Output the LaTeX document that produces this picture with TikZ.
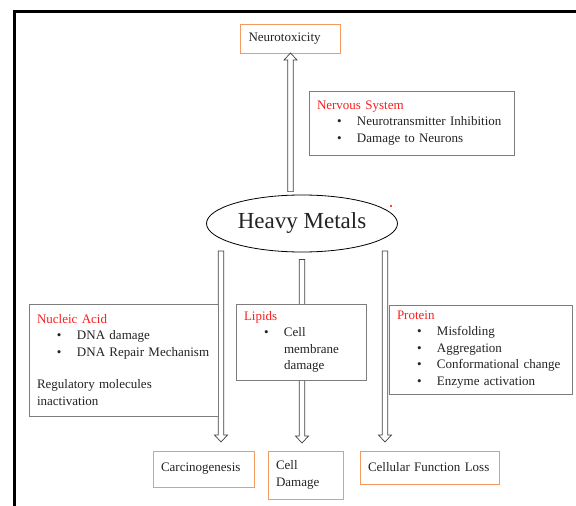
\documentclass[tikz,border=0pt]{standalone}
\usepackage{fontspec}
\setmainfont{Liberation Serif}
\usetikzlibrary{shapes.geometric,arrows.meta,positioning,calc}

\definecolor{boxorange}{RGB}{243,155,95}
\definecolor{boxgray}{RGB}{125,125,125}
\definecolor{headred}{RGB}{250,30,30}
\definecolor{txt}{RGB}{35,35,35}
\newcommand{\bull}[1]{\hspace*{20pt}\makebox[20pt][l]{\textbullet}#1}

\begin{document}
\begin{tikzpicture}[x=1pt, y=-1pt,
  font=\fontsize{13}{16.5}\selectfont, text=txt,
  outcome/.style={draw=boxorange, line width=0.9pt, fill=white, anchor=north west,
    inner xsep=8pt, inner ysep=0pt, outer sep=0pt, align=left},
  group/.style={draw=boxgray, line width=0.8pt, fill=white, anchor=north west,
    inner xsep=8pt, inner ysep=0pt, outer sep=0pt, align=left},
  % hollow block arrow from start to target
  hollow/.style={draw=black!75, line width=0.7pt, fill=white, line join=miter,
    to path={($(\tikztostart)!2.8pt!90:(\tikztotarget)$)
      -- ($(\tikztotarget)!7pt!(\tikztostart)!2.8pt!-90:(\tikztostart)$)
      -- ($(\tikztotarget)!7pt!(\tikztostart)!6.5pt!-90:(\tikztostart)$)
      -- (\tikztotarget)
      -- ($(\tikztotarget)!7pt!(\tikztostart)!6.5pt!90:(\tikztostart)$)
      -- ($(\tikztotarget)!7pt!(\tikztostart)!2.8pt!90:(\tikztostart)$)
      -- ($(\tikztostart)!2.8pt!-90:(\tikztotarget)$) -- cycle}}]
\useasboundingbox (0,0) rectangle (576,506);

% frame
\draw[line width=2.5pt] (14.3,506) -- (14.3,11.7) -- (576,11.7);

% centre
\node[draw, ellipse, line width=0.8pt, minimum width=190pt, minimum height=57pt,
  font=\fontsize{23}{26}\selectfont] (heavy) at (302,223.5) {Heavy Metals};
\fill[red] (391,206) circle (1.1pt);

% effects
\node[outcome, text width=84pt, minimum height=29pt] (neuro) at (240.5,24) {Neurotoxicity};
\node[outcome, text width=85pt, minimum height=36pt] (carc) at (153,451) {Carcinogenesis};
\node[outcome, text width=59pt, minimum height=48pt] (cell) at (268,451) {Cell\\Damage};
\node[outcome, text width=123pt, minimum height=33pt] (loss) at (360,451) {Cellular Function Loss};

% start points of the arrows
\coordinate (ustart) at ($(neuro.south |- heavy.north)+(0,-3)$);
\coordinate (nstart) at (221,251);
\coordinate (lstart) at ($(heavy.south)+(0,7)$);
\coordinate (pstart) at (385,251);

% arrows
\draw[hollow] (ustart) to (neuro.south);
\draw[hollow] (nstart) to ($(nstart |- carc.north)+(0,-9)$);
\draw[hollow] (lstart) to ($(lstart |- cell.north)+(0,-8)$);
\draw[hollow] (pstart) to ($(pstart |- loss.north)+(0,-9)$);

% targets
\node[group, text width=189pt, minimum height=64pt] (nerv) at (309,91)
  {\textcolor{headred}{Nervous System}\\ \bull{Neurotransmitter Inhibition}\\ \bull{Damage to Neurons}};
\node[group, text width=173pt, minimum height=112pt] (nucl) at (29,304)
  {\textcolor{headred}{Nucleic Acid}\\ \bull{DNA damage}\\ \bull{DNA Repair Mechanism}\\[16pt]
   Regulatory molecules\\ inactivation};
\node[group, text width=114pt, minimum height=76pt] (lipid) at (236,304)
  {\textcolor{headred}{Lipids}\\ \bull{Cell}\\ \hspace*{40pt}membrane\\ \hspace*{40pt}damage};
\node[group, text width=167pt, minimum height=89pt] (prot) at (389,305)
  {\textcolor{headred}{Protein}\\ \bull{Misfolding}\\ \bull{Aggregation}\\ \bull{Conformational change}\\ \bull{Enzyme activation}};
\end{tikzpicture}
\end{document}
